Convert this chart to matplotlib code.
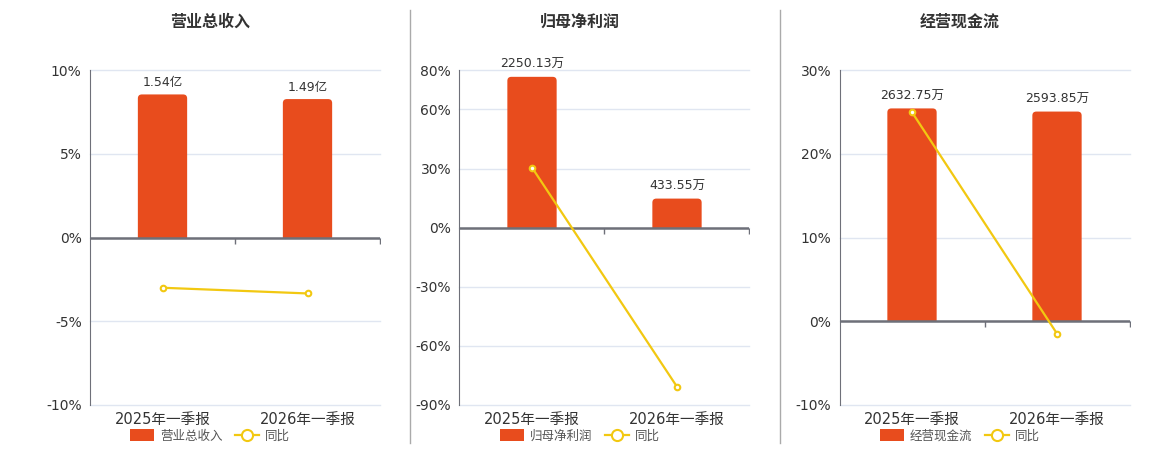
import matplotlib
matplotlib.use("Agg")
import matplotlib.pyplot as plt
from matplotlib.patches import FancyBboxPatch, Rectangle, Patch
from matplotlib.lines import Line2D

plt.rcParams['font.family'] = ['DejaVu Sans', 'Noto Sans CJK SC']

categories = ['2025年一季报', '2026年一季报']

titles = ['营业总收入', '归母净利润', '经营现金流']
bar_values = [[1.54, 1.49], [2250.13, 433.55], [2632.75, 2593.85]]
bar_labels = [['1.54亿', '1.49亿'], ['2250.13万', '433.55万'], ['2632.75万', '2593.85万']]
yoy = [[-3.0, -3.34], [30.5, -80.73], [24.96, -1.48]]

pct_ticks = [[-10, -5, 0, 5, 10], [-90, -60, -30, 0, 30, 60, 80], [-10, 0, 10, 20, 30]]
bar_axis_top = [1.803, 2352, 3108]

bar_color = '#e84c1d'
line_color = '#f2c811'
grid_color = '#e0e6f1'
axis_color = '#6e7079'
text_color = '#333333'

fig = plt.figure(figsize=(11.6, 4.5), dpi=100)

lefts = [90, 459.5, 839.5]
centers = [210, 580, 960]
W, H = 1160, 450
ax_w, ax_top, ax_bot = 290, 70, 405

for i in range(3):
    rect = [lefts[i] / W, (H - ax_bot) / H, ax_w / W, (ax_bot - ax_top) / H]
    ax = fig.add_axes(rect)
    axb = ax.twinx()
    axl = ax.twinx()

    lo, hi = pct_ticks[i][0], pct_ticks[i][-1]
    ax.set_xlim(-0.5, 1.5)
    ax.set_ylim(lo, hi)
    axl.set_ylim(lo, hi)
    btop = bar_axis_top[i]
    axb.set_ylim(lo / hi * btop, btop)

    # grid + ticks on base axes
    ax.set_yticks(pct_ticks[i])
    ax.set_yticklabels([f'{t}%' for t in pct_ticks[i]])
    ax.yaxis.grid(True, color=grid_color, lw=1)
    for gl in ax.get_ygridlines():
        gl.set_clip_on(False)
    ax.tick_params(axis='y', length=0, pad=6, labelsize=10, labelcolor=text_color)
    ax.set_xticks(range(len(categories)))
    ax.set_xticklabels(categories)
    ax.tick_params(axis='x', length=0, pad=5, labelsize=10.5, labelcolor=text_color)
    for s in ['top', 'right', 'bottom']:
        ax.spines[s].set_visible(False)
    ax.spines['left'].set_color(axis_color)

    for a in (axb, axl):
        a.set_yticks([])
        a.patch.set_visible(False)
        for s in a.spines.values():
            s.set_visible(False)

    # bars with rounded tops
    bars = axb.bar(range(len(categories)), bar_values[i], width=0.34, color=bar_color)
    yspan = btop - lo / hi * btop
    rx = 4 / (ax_w / 2.0)
    aspect = (yspan / (ax_bot - ax_top)) / (2.0 / ax_w)
    ry = rx * aspect
    clip = Rectangle((-0.5, 0), 2, btop * 2, transform=axb.transData)
    for b, lab in zip(bars, bar_labels[i]):
        x, w, h = b.get_x(), b.get_width(), b.get_height()
        b.set_visible(False)
        fb = FancyBboxPatch((x, -ry), w, h + ry,
                            boxstyle=f'round,pad=0,rounding_size={rx}',
                            mutation_aspect=aspect, fc=bar_color, ec='none')
        axb.add_patch(fb)
        fb.set_clip_path(clip)
        axb.annotate(lab, (x + w / 2, h), xytext=(0, 4), textcoords='offset points',
                     ha='center', va='bottom', fontsize=9, color=text_color)

    # zero line and category ticks
    axl.axhline(0, color=axis_color, lw=1.8)
    axl.plot([0.5, 1.5], [0, 0], ls='none', marker=3, ms=4, mec=axis_color, mew=1)

    axl.plot(range(len(categories)), yoy[i], color=line_color, lw=1.6,
             marker='o', ms=4, mfc='white', mec=line_color, mew=1.5)

    fig.text(centers[i] / W, 1 - 22 / H, titles[i], ha='center', va='center',
             fontsize=11.5, fontweight='bold', color=text_color)

    handles = [Patch(fc=bar_color, ec='none'),
               Line2D([], [], color=line_color, lw=1.6, marker='o', ms=8,
                      mfc='white', mec=line_color, mew=1.5)]
    fig.legend(handles, [titles[i], '同比'], loc='center',
               bbox_to_anchor=(centers[i] / W, 1 - 436 / H), ncol=2, frameon=False,
               fontsize=9, labelcolor='#555555', handlelength=1.9, handleheight=1.1,
               handletextpad=0.5, columnspacing=1.0, borderaxespad=0)

for xs in (410, 780):
    fig.add_artist(Line2D([xs / W, xs / W], [1 - 10 / H, 1 - 443 / H],
                          color='#aaaaaa', lw=1, transform=fig.transFigure))

fig.savefig('out.png', dpi=100)
